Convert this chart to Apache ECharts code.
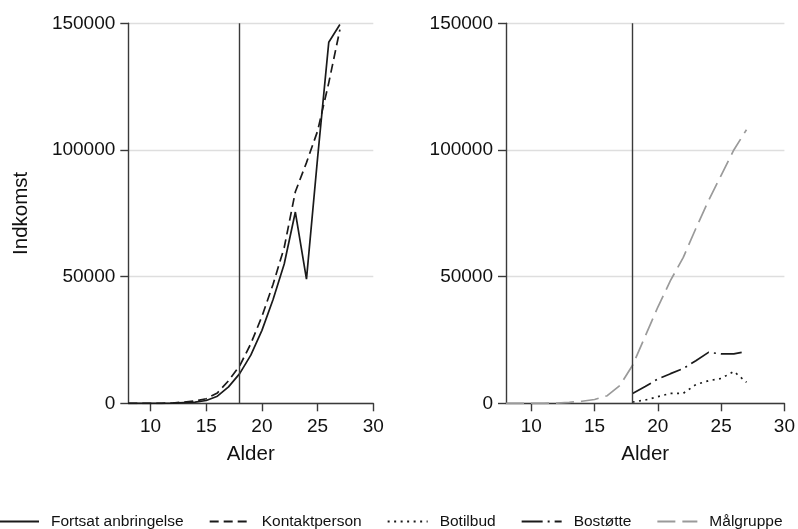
<!DOCTYPE html>
<html>
<head>
<meta charset="utf-8">
<script src="https://cdn.jsdelivr.net/npm/echarts@6/dist/echarts.min.js"></script>
<style>
  html, body { margin: 0; padding: 0; background: #fff; }
  #chart { width: 798px; height: 529px; }
</style>
</head>
<body>
<div id="chart"></div>
<script>
// Alder (age) for each observation
const ages = [8, 9, 10, 11, 12, 13, 14, 15, 16, 17, 18, 19, 20, 21, 22, 23, 24, 25, 26, 27];
const agesAfter = [18, 19, 20, 21, 22, 23, 24, 25, 26, 27];

// Left panel: income by age
const fortsatAnbringelse = [0, 0, 0, 0, 100, 300, 500, 1100, 2800, 6500, 11700, 19000, 28800, 41000, 55000, 75500, 49000, 97000, 142500, 149500];
const kontaktperson = [0, 0, 0, 0, 100, 500, 900, 1800, 4100, 8900, 14800, 23500, 34300, 47000, 61500, 83500, 95000, 107500, 126500, 147500];

// Right panel: income by age
const maalgruppe = [0, 0, 0, 0, 100, 400, 800, 1500, 3000, 7000, 15000, 26500, 38000, 48500, 57500, 69000, 80000, 90000, 100000, 108000];
const bostoette = [3900, 6600, 9600, 11700, 13700, 16800, 20100, 19500, 19500, 20500];
const botilbud = [500, 1300, 2600, 3900, 3900, 7400, 8900, 9800, 12600, 8300];

const xTicks = [10, 15, 20, 25, 30];
const cutoffAge = 18;

const FONT = '"Liberation Sans", Arial, Helvetica, sans-serif';
const TEXT = '#111';
const AXIS = '#3a3a3a';

function pairs(xs, ys) {
  return xs.map((x, i) => [x, ys[i]]);
}

function xAxisFor(gridIndex) {
  return {
    type: 'value',
    gridIndex: gridIndex,
    min: 8,
    max: 30,
    name: 'Alder',
    nameLocation: 'middle',
    nameGap: 41,
    nameTextStyle: { fontFamily: FONT, fontSize: 20.5, color: TEXT },
    axisLine: { show: true, onZero: false, lineStyle: { color: AXIS, width: 1.4 } },
    axisTick: { show: true, length: 8, customValues: xTicks, lineStyle: { color: AXIS, width: 1.4 } },
    axisLabel: { customValues: xTicks, margin: 14, fontFamily: FONT, fontSize: 19, color: TEXT },
    splitLine: { show: false }
  };
}

function yAxisFor(gridIndex, withName) {
  return {
    type: 'value',
    gridIndex: gridIndex,
    min: 0,
    max: 150000,
    interval: 50000,
    name: withName ? 'Indkomst' : '',
    nameLocation: 'middle',
    nameGap: 96,
    nameTextStyle: { fontFamily: FONT, fontSize: 20.5, color: TEXT },
    axisLine: { show: true, lineStyle: { color: AXIS, width: 1.4 } },
    axisTick: { show: true, length: 8, lineStyle: { color: AXIS, width: 1.4 } },
    axisLabel: { margin: 13, fontFamily: FONT, fontSize: 19, color: TEXT, formatter: v => String(v) },
    splitLine: { show: true, lineStyle: { color: '#dedede', width: 1.4 } }
  };
}

// vertical reference line at age 18
const cutoffLine = {
  silent: true,
  symbol: 'none',
  label: { show: false },
  lineStyle: { color: AXIS, width: 1.4, type: 'solid' },
  data: [{ xAxis: cutoffAge }]
};

function lineSeries(name, gridIndex, data, color, dash, extra) {
  return Object.assign({
    name: name,
    type: 'line',
    xAxisIndex: gridIndex,
    yAxisIndex: gridIndex,
    data: data,
    showSymbol: false,
    symbol: 'circle',
    animation: false,
    lineStyle: { color: color, width: 1.7, type: dash, cap: 'butt' },
    itemStyle: { color: color }
  }, extra || {});
}

const chart = echarts.init(document.getElementById('chart'), null, { renderer: 'canvas' });

chart.setOption({
  animation: false,
  backgroundColor: '#fff',
  textStyle: { fontFamily: FONT },
  grid: [
    { left: 128.3, top: 23.3, width: 245, height: 380 },
    { left: 506, top: 23.3, width: 280.7, height: 380 }
  ],
  xAxis: [xAxisFor(0), xAxisFor(1)],
  yAxis: [yAxisFor(0, true), yAxisFor(1, false)],
  legend: {
    left: -2,
    top: 513.5,
    padding: 0,
    itemWidth: 40,
    itemHeight: 16,
    itemGap: 25,
    selectedMode: false,
    itemStyle: { color: 'rgba(0,0,0,0)', borderWidth: 0, opacity: 0 },
    textStyle: { fontFamily: FONT, fontSize: 15.5, color: TEXT, padding: [0, 0, 0, 7] },
    data: ['Fortsat anbringelse', 'Kontaktperson', 'Botilbud', 'Bostøtte', 'Målgruppe']
  },
  series: [
    lineSeries('Fortsat anbringelse', 0, pairs(ages, fortsatAnbringelse), '#1a1a1a', 'solid', { markLine: cutoffLine }),
    lineSeries('Kontaktperson', 0, pairs(ages, kontaktperson), '#1a1a1a', [9, 5]),
    lineSeries('Målgruppe', 1, pairs(ages, maalgruppe), '#9a9a9a', [18, 7], { markLine: cutoffLine }),
    lineSeries('Bostøtte', 1, pairs(agesAfter, bostoette), '#1a1a1a', [21, 5, 2, 5]),
    lineSeries('Botilbud', 1, pairs(agesAfter, botilbud), '#1a1a1a', [2, 4.5])
  ]
});
</script>
</body>
</html>
